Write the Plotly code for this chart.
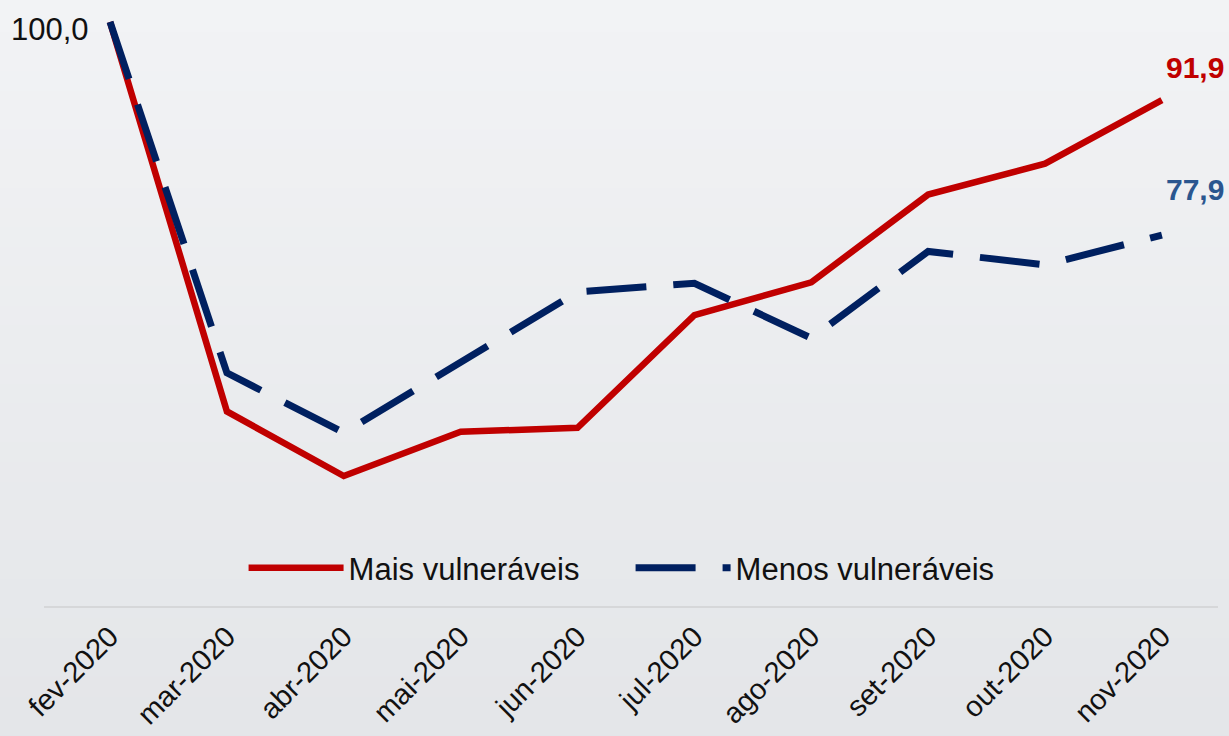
import plotly.graph_objects as go

months = ["fev-2020", "mar-2020", "abr-2020", "mai-2020", "jun-2020",
          "jul-2020", "ago-2020", "set-2020", "out-2020", "nov-2020"]
mais_vulneraveis = [100.0, 59.6, 52.9, 57.5, 57.9, 69.6, 73.0, 82.1, 85.3, 91.9]
menos_vulneraveis = [100.0, 63.6, 57.4, 64.6, 72.0, 72.9, 67.2, 76.2, 74.8, 77.9]

RED = "#C00000"
NAVY = "#002060"
LABEL_BLUE = "#2A568F"

fig = go.Figure()
fig.add_trace(go.Scatter(
    x=months, y=mais_vulneraveis, mode="lines", name="Mais vulneráveis",
    line=dict(color=RED, width=6.5)))
fig.add_trace(go.Scatter(
    x=months, y=menos_vulneraveis, mode="lines", name="Menos vulneráveis",
    line=dict(color=NAVY, width=7, dash="60px,27px")))

# background gradient (vertical strips)
n = 40
top = (0xF2, 0xF3, 0xF5)
bot = (0xE3, 0xE5, 0xE8)
shapes = []
for i in range(n):
    t = i / (n - 1)
    c = tuple(round(top[k] + (bot[k] - top[k]) * t) for k in range(3))
    y1 = 1.02 - i * (1.3 / n)
    y0 = y1 - 1.3 / n - 0.002
    shapes.append(dict(type="rect", xref="paper", yref="paper",
                       x0=-0.1, x1=1.1, y0=y0, y1=y1, layer="below",
                       line=dict(width=0), fillcolor="rgb(%d,%d,%d)" % c))

fig.update_layout(
    width=1229, height=736,
    margin=dict(l=44, r=11, t=5, b=130),
    paper_bgcolor="#EBECEE",
    plot_bgcolor="rgba(0,0,0,0)",
    shapes=shapes,
    font=dict(family="Liberation Sans, Arial, sans-serif", color="#111111"),
    showlegend=True,
    legend=dict(orientation="h", x=0.170, y=0.063, xanchor="left", yanchor="middle",
                font=dict(size=31, color="#111111"), bgcolor="rgba(0,0,0,0)",
                itemwidth=95, entrywidth=277, entrywidthmode="pixels",
                tracegroupgap=0),
    xaxis=dict(range=[-0.565, 9.48], showgrid=False, zeroline=False,
               showline=True, linecolor="#D6D7D9", linewidth=2,
               ticks="", tickangle=-45, tickfont=dict(size=29, color="#111111")),
    yaxis=dict(range=[39.42, 101.76], showgrid=False, zeroline=False,
               showticklabels=False, showline=False),
)

fig.add_annotation(x=months[0], y=mais_vulneraveis[0], text="100,0", showarrow=False,
                   xanchor="right", yanchor="middle", xshift=-19, yshift=-8,
                   font=dict(size=31, color="#111111"))
fig.add_annotation(x=months[-1], y=mais_vulneraveis[-1], text="<b>91,9</b>", showarrow=False,
                   xanchor="center", yanchor="middle", xshift=33, yshift=33,
                   font=dict(size=30, color=RED))
fig.add_annotation(x=months[-1], y=menos_vulneraveis[-1], text="<b>77,9</b>", showarrow=False,
                   xanchor="center", yanchor="middle", xshift=33, yshift=46,
                   font=dict(size=30, color=LABEL_BLUE))

fig.write_html("out.html", config={"displayModeBar": False},
               post_script="document.body.style.margin='0';document.body.style.overflow='hidden';")
